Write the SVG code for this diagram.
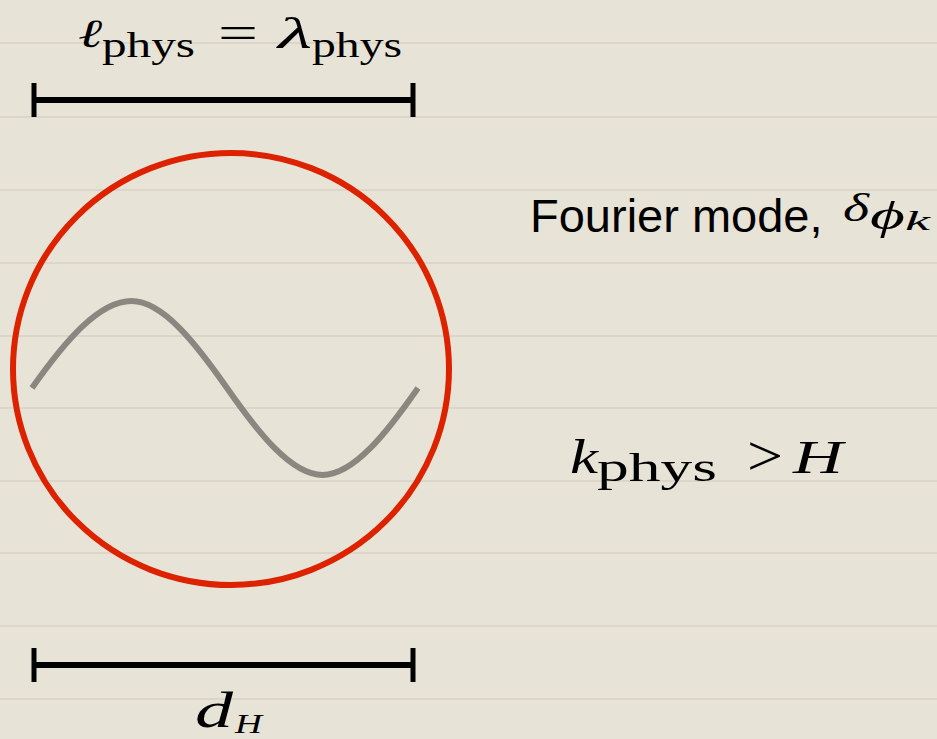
<svg xmlns="http://www.w3.org/2000/svg" width="937" height="739" viewBox="0 0 937 739">
<style>
.rule{stroke:#dbd6c9;stroke-width:2;fill:none}
.bar{stroke:#000;fill:none}
.m{font-family:"Liberation Serif","DejaVu Serif",serif;fill:#000}
.i{font-style:italic}
.s{font-family:"Liberation Sans",Arial,sans-serif;fill:#000}
</style>
<rect x="0" y="0" width="937" height="739" fill="#e7e3d6"/>
<g id="paper-rules">
<line class="rule" x1="0" y1="43" x2="937" y2="43"/>
<line class="rule" x1="0" y1="117" x2="937" y2="117"/>
<line class="rule" x1="0" y1="190" x2="937" y2="190"/>
<line class="rule" x1="0" y1="263" x2="937" y2="263"/>
<line class="rule" x1="0" y1="336" x2="937" y2="336"/>
<line class="rule" x1="0" y1="408" x2="937" y2="408"/>
<line class="rule" x1="0" y1="481" x2="937" y2="481"/>
<line class="rule" x1="0" y1="553" x2="937" y2="553"/>
<line class="rule" x1="0" y1="626" x2="937" y2="626"/>
<line class="rule" x1="0" y1="699" x2="937" y2="699"/>
</g>
<g id="connectors">
<g id="top-bar">
<line class="bar" x1="34" y1="100" x2="413" y2="100" stroke-width="6"/>
<line class="bar" x1="34" y1="83" x2="34" y2="117" stroke-width="5"/>
<line class="bar" x1="413" y1="83" x2="413" y2="117" stroke-width="5"/>
</g>
<g id="bottom-bar">
<line class="bar" x1="34" y1="665" x2="413" y2="665" stroke-width="6"/>
<line class="bar" x1="34" y1="648" x2="34" y2="682" stroke-width="5"/>
<line class="bar" x1="413" y1="648" x2="413" y2="682" stroke-width="5"/>
</g>
</g>
<g id="horizon">
<ellipse cx="231" cy="369" rx="218" ry="216" fill="none" stroke="#dd2200" stroke-width="6"/>
</g>
<g id="wave">
<path d="M32,388 C65,341 99,301 131.5,301 C162.7,301 195.9,343.4 227,388 C258.1,432.6 291.3,475 322.5,475 C353.7,475 386.9,432.6 418,388" fill="none" stroke="#8a8780" stroke-width="6"/>
</g>
<g id="label-top">
<text class="m i" x="78" y="47" font-size="40" textLength="24" lengthAdjust="spacingAndGlyphs">ℓ</text>
<text class="m" x="102" y="57" font-size="35" textLength="93" lengthAdjust="spacingAndGlyphs">phys</text>
<text class="m" x="218" y="48" font-size="46" textLength="40" lengthAdjust="spacingAndGlyphs">=</text>
<text class="m i" x="278" y="48" font-size="44" textLength="34" lengthAdjust="spacingAndGlyphs">λ</text>
<text class="m" x="312" y="57" font-size="35" textLength="90" lengthAdjust="spacingAndGlyphs">phys</text>
</g>
<g id="label-fourier">
<text class="s" x="530" y="232" font-size="47">Fourier mode,</text>
<text class="m i" x="843" y="221" font-size="40" textLength="26" lengthAdjust="spacingAndGlyphs">δ</text>
<text class="m i" x="870" y="229" font-size="40" textLength="35" lengthAdjust="spacingAndGlyphs">ϕ</text>
<text class="m i" x="905" y="230" font-size="28" textLength="25" lengthAdjust="spacingAndGlyphs">k</text>
</g>
<g id="label-condition">
<text class="m i" x="570" y="473" font-size="48" textLength="28" lengthAdjust="spacingAndGlyphs">k</text>
<text class="m" x="597" y="481" font-size="40" textLength="120" lengthAdjust="spacingAndGlyphs">phys</text>
<text class="m" x="747" y="475" font-size="58" textLength="36" lengthAdjust="spacingAndGlyphs">&gt;</text>
<text class="m i" x="793" y="473" font-size="46" textLength="50" lengthAdjust="spacingAndGlyphs">H</text>
</g>
<g id="label-bottom">
<text class="m i" x="195" y="727" font-size="50" textLength="38" lengthAdjust="spacingAndGlyphs">d</text>
<text class="m i" x="235" y="733" font-size="28" textLength="27" lengthAdjust="spacingAndGlyphs">H</text>
</g>
</svg>
